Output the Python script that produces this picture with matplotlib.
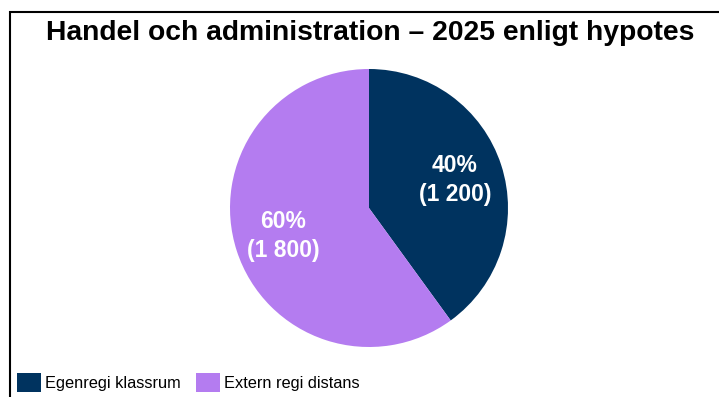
import matplotlib
matplotlib.use("Agg")
import matplotlib.pyplot as plt
from matplotlib.patches import Patch, Rectangle

categories = ["Egenregi klassrum", "Extern regi distans"]
values = [1200, 1800]
colors = ["#00335F", "#B47CF0"]
title = "Handel och administration – 2025 enligt hypotes"

plt.rcParams['font.family'] = ['Liberation Sans', 'DejaVu Sans']

fig = plt.figure(figsize=(7.19, 3.97), dpi=100)
fig.patch.set_facecolor("white")

# border
fig.add_artist(Rectangle((10/719, -0.1), 1.2, 1 - 12/397 + 0.1, transform=fig.transFigure,
                         fill=False, edgecolor="black", linewidth=1.5))

ax = fig.add_axes([(369-139)/719, (397-208-139)/397, 278/719, 278/397])
total = sum(values)

def fmt(p):
    v = int(round(p * total / 100))
    return f"{p:.0f}%\n({v:,})".replace(",", " ")

wedges, texts, autotexts = ax.pie(values, colors=colors, startangle=90, counterclock=False,
                                  autopct=fmt, pctdistance=0.65,
                                  textprops=dict(color="white", fontsize=16.5, fontweight="bold"))
for t in autotexts:
    t.set_linespacing(1.3)
ax.set_xlim(-1, 1)
ax.set_ylim(-1, 1)
ax.set_aspect("equal")

fig.text(370/719, 1 - 33/397, title, ha="center", va="center", fontsize=20.3, fontweight="bold")

handles = [Patch(facecolor=c, edgecolor="none") for c in colors]
fig.legend(handles, categories, loc="lower left", bbox_to_anchor=(7/719, -5/397), ncol=2,
           frameon=False, fontsize=11.8, handlelength=1.45, handleheight=1.45,
           handletextpad=0.25, columnspacing=0.95, borderaxespad=0.2)

fig.savefig("out.png", dpi=100)
